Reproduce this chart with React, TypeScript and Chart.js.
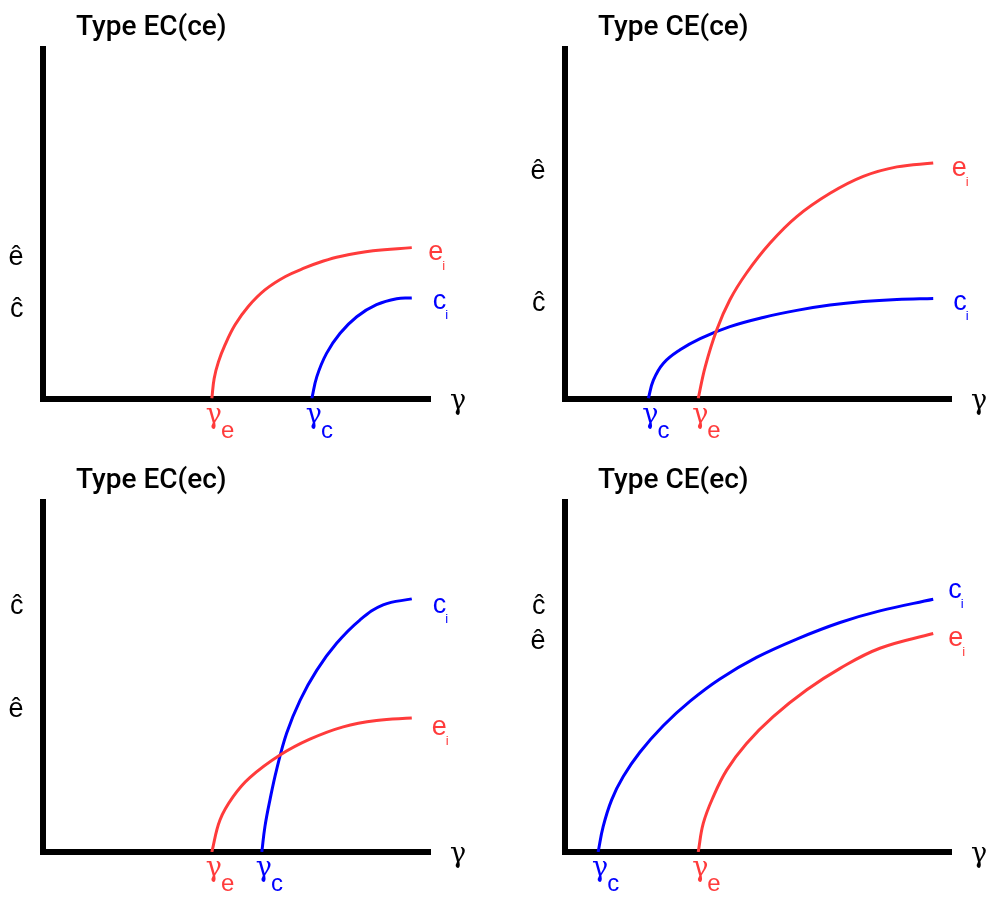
import React, { useEffect, useRef } from "react";
import { Chart, registerables } from "chart.js";

Chart.register(...registerables);

// ---- Curve samples (γ on x, value on y; both axes run 0..100) ----

// Type EC(ce)
const ecCeEnergyX = [43.7, 44.3, 45.4, 47.1, 49.7, 53.1, 57.4, 62.7, 67.8, 72.5, 76.8, 85.3, 95.3];
const ecCeEnergyY = [0, 5.7, 10.4, 15.2, 20.9, 26.1, 30.8, 34.6, 37.1, 39.0, 40.3, 41.9, 42.8];
const ecCeCostX = [69.5, 70.8, 73.3, 76.8, 81.1, 86.2, 91.4, 95.3];
const ecCeCostY = [0, 6.2, 12.8, 18.5, 23.2, 26.6, 28.3, 28.5];
const ecCeTickValues = [40.1, 25.1];
const ecCeTickLabels = ["ê", "ĉ"];

// Type CE(ce)
const ceCeEnergyX = [34.6, 36.4, 39.4, 42.8, 47.1, 53.2, 60.1, 68.7, 77.3, 86.0, 95.4];
const ceCeEnergyY = [0, 9.0, 19.5, 28.0, 35.6, 44.1, 51.6, 58.2, 63.0, 65.7, 66.8];
const ceCeCostX = [21.7, 23.0, 25.6, 29.9, 35.1, 42.8, 51.4, 60.1, 68.7, 77.3, 86.0, 95.4];
const ceCeCostY = [0, 5.2, 10.0, 13.8, 17.0, 20.4, 23.0, 25.0, 26.5, 27.5, 28.1, 28.4];
const ceCeTickValues = [64.4, 27.0];
const ceCeTickLabels = ["ê", "ĉ"];

// Type EC(ec)
const ecEcEnergyX = [43.7, 45.8, 49.2, 53.5, 61.3, 69.0, 77.6, 86.2, 95.3];
const ecEcEnergyY = [0, 9.1, 15.7, 21.1, 27.5, 32.0, 35.5, 37.3, 38.0];
const ecEcCostX = [56.6, 57.4, 58.7, 60.4, 63.0, 66.5, 70.8, 75.9, 81.9, 87.9, 95.3];
const ecEcCostY = [0, 7.2, 14.8, 23.3, 33.7, 43.1, 51.6, 59.2, 65.8, 70.1, 71.8];
const ecEcTickValues = [69.6, 40.5];
const ecEcTickLabels = ["ĉ", "ê"];

// Type CE(ec)
const ceEcEnergyX = [34.6, 35.9, 38.5, 42.0, 47.1, 54.0, 62.7, 71.3, 81.6, 95.4];
const ceEcEnergyY = [0, 8.1, 15.7, 23.3, 30.8, 38.4, 46.0, 52.1, 57.8, 62.0];
const ceEcCostX = [8.7, 10.0, 12.2, 15.2, 19.5, 25.6, 32.5, 40.2, 49.7, 60.1, 71.3, 81.6, 95.4];
const ceEcCostY = [0, 7.2, 14.8, 21.4, 28.3, 35.9, 42.8, 49.1, 55.2, 60.4, 65.1, 68.4, 71.7];
const ceEcTickValues = [69.6, 59.7];
const ceEcTickLabels = ["ĉ", "ê"];

const RED = "#ff3b3b";
const BLUE = "#0000ff";
const TEXT_FONT = '"Liberation Sans", Arial, sans-serif';
const GAMMA_FONT = '"DejaVu Serif", serif';
const TITLE_FONT = 'Roboto, "Noto Sans", sans-serif';

type SeriesLabel = { sym: string; color: string; dx: number; dy: number };

type Panel = {
  title: string;
  left: number;
  top: number;
  width: number;
  height: number;
  axisWidth: number;
  padding: { top: number; right: number; bottom: number };
  series: { xs: number[]; ys: number[]; color: string }[];
  labels: SeriesLabel[];
  tickValues: number[];
  tickLabels: string[];
};

const toPoints = (xs: number[], ys: number[]) => xs.map((x, i) => ({ x, y: ys[i] }));

const PANELS: Panel[] = [
  {
    title: "Type EC(ce)",
    left: 0, top: 0, width: 498, height: 449, axisWidth: 42.5,
    padding: { top: 48.8, right: 68, bottom: 50.5 },
    series: [
      { xs: ecCeEnergyX, ys: ecCeEnergyY, color: RED },
      { xs: ecCeCostX, ys: ecCeCostY, color: BLUE },
    ],
    labels: [
      { sym: "e", color: RED, dx: 16.5, dy: 5 },
      { sym: "c", color: BLUE, dx: 21, dy: 3.5 },
    ],
    tickValues: ecCeTickValues,
    tickLabels: ecCeTickLabels,
  },
  {
    title: "Type CE(ce)",
    left: 499, top: 0, width: 498, height: 449, axisWidth: 65.5,
    padding: { top: 48.8, right: 46, bottom: 50.5 },
    series: [
      { xs: ceCeEnergyX, ys: ceCeEnergyY, color: RED },
      { xs: ceCeCostX, ys: ceCeCostY, color: BLUE },
    ],
    labels: [
      { sym: "e", color: RED, dx: 18.5, dy: 5.5 },
      { sym: "c", color: BLUE, dx: 20, dy: 4 },
    ],
    tickValues: ceCeTickValues,
    tickLabels: ceCeTickLabels,
  },
  {
    title: "Type EC(ec)",
    left: 0, top: 449, width: 498, height: 449, axisWidth: 42.5,
    padding: { top: 53.3, right: 68, bottom: 46 },
    series: [
      { xs: ecEcEnergyX, ys: ecEcEnergyY, color: RED },
      { xs: ecEcCostX, ys: ecEcCostY, color: BLUE },
    ],
    labels: [
      { sym: "e", color: RED, dx: 20, dy: 9 },
      { sym: "c", color: BLUE, dx: 21, dy: 6.5 },
    ],
    tickValues: ecEcTickValues,
    tickLabels: ecEcTickLabels,
  },
  {
    title: "Type CE(ec)",
    left: 499, top: 449, width: 498, height: 449, axisWidth: 65.5,
    padding: { top: 53.3, right: 46, bottom: 46 },
    series: [
      { xs: ceEcEnergyX, ys: ceEcEnergyY, color: RED },
      { xs: ceEcCostX, ys: ceEcCostY, color: BLUE },
    ],
    labels: [
      { sym: "e", color: RED, dx: 15, dy: 5.5 },
      { sym: "c", color: BLUE, dx: 15, dy: -8.5 },
    ],
    tickValues: ceEcTickValues,
    tickLabels: ceEcTickLabels,
  },
];

// Draws the panel title, the γ axis name, the curve end labels (e_i / c_i)
// and the threshold labels (γ_e / γ_c) under the γ axis.
const panelText = {
  id: "panelText",
  afterDraw(chart: any, _args: any, opts: any) {
    const { ctx, chartArea, scales } = chart;
    const xs = scales.x;
    const ys = scales.y;
    const baseY = ys.getPixelForValue(0);
    ctx.save();
    ctx.textAlign = "left";
    ctx.textBaseline = "alphabetic";

    ctx.fillStyle = "#000";
    ctx.font = `500 28px ${TITLE_FONT}`;
    ctx.fillText(opts.title, chartArea.left + 33.5, chartArea.top - 14);

    ctx.font = `27px ${GAMMA_FONT}`;
    ctx.fillText("γ", xs.right + 20, baseY + 10);

    (opts.labels as SeriesLabel[]).forEach((lab, i) => {
      const meta = chart.getDatasetMeta(i);
      const pts = meta.data;
      const first = pts[0];
      const last = pts[pts.length - 1];
      ctx.fillStyle = lab.color;

      // end label, e.g. e_i
      ctx.font = `27px ${TEXT_FONT}`;
      const lx = last.x + lab.dx;
      const ly = last.y + lab.dy + 7.5;
      ctx.fillText(lab.sym, lx, ly);
      const w = ctx.measureText(lab.sym).width;
      ctx.font = `13px ${TEXT_FONT}`;
      ctx.fillText("i", lx + w - 1, ly + 10);

      // threshold label, e.g. γ_e
      ctx.font = `27px ${GAMMA_FONT}`;
      const gx = first.x + 2;
      const gy = baseY + 24;
      ctx.textAlign = "center";
      ctx.fillText("γ", gx, gy);
      const gw = ctx.measureText("γ").width;
      ctx.textAlign = "left";
      ctx.font = `24px ${TEXT_FONT}`;
      ctx.fillText(lab.sym, gx + gw / 2 - 1, gy + 15);
    });
    ctx.restore();
  },
};

function PanelChart({ panel }: { panel: Panel }) {
  const ref = useRef<HTMLCanvasElement | null>(null);
  useEffect(() => {
    if (!ref.current) return;
    const chart = new Chart(ref.current, {
      type: "line",
      data: {
        datasets: panel.series.map((s) => ({
          data: toPoints(s.xs, s.ys),
          borderColor: s.color,
          borderWidth: 3,
          pointRadius: 0,
          fill: false,
          tension: 0.4,
        })),
      },
      options: {
        animation: false,
        responsive: false,
        maintainAspectRatio: false,
        events: [],
        layout: {
          padding: { left: 0, top: panel.padding.top, right: panel.padding.right, bottom: panel.padding.bottom },
        },
        plugins: {
          legend: { display: false },
          tooltip: { enabled: false },
          panelText: { title: panel.title, labels: panel.labels },
        } as any,
        scales: {
          x: {
            type: "linear",
            min: 0,
            max: 100,
            z: 1,
            grid: { display: false, drawTicks: false },
            ticks: { display: false },
            border: { display: true, color: "#000", width: 6 },
          },
          y: {
            type: "linear",
            min: 0,
            max: 99.2,
            z: 1,
            grid: { display: false, drawTicks: false },
            border: { display: true, color: "#000", width: 6 },
            afterBuildTicks: (scale: any) => {
              scale.ticks = panel.tickValues.map((v) => ({ value: v }));
            },
            afterFit: (scale: any) => {
              scale.width = panel.axisWidth;
            },
            ticks: {
              autoSkip: false,
              padding: 19,
              color: "#000",
              font: { family: TEXT_FONT, size: 27 },
              callback: (_v: any, i: number) => panel.tickLabels[i],
            },
          },
        },
      },
      plugins: [panelText],
    });
    return () => chart.destroy();
  }, [panel]);

  return (
    <canvas
      ref={ref}
      width={panel.width}
      height={panel.height}
      style={{ position: "absolute", left: panel.left, top: panel.top, width: panel.width, height: panel.height }}
    />
  );
}

export default function App() {
  return (
    <div style={{ position: "fixed", left: 0, top: 0, width: 997, height: 898, background: "#fff", overflow: "hidden" }}>
      {PANELS.map((p) => (
        <PanelChart key={p.title} panel={p} />
      ))}
    </div>
  );
}
